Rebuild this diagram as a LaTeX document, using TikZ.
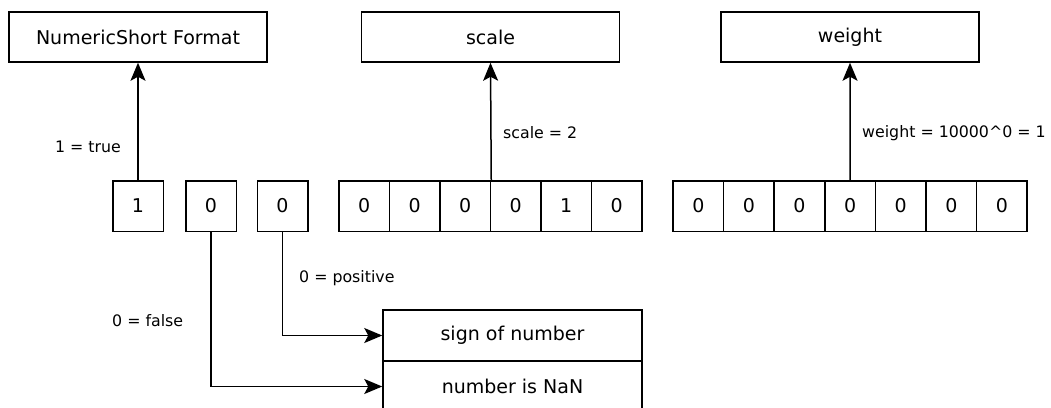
\documentclass[tikz,border=0pt]{standalone}
\usepackage{fontspec}
\setmainfont{DejaVu Sans}
\usetikzlibrary{arrows.meta}

\tikzset{
  box/.style={draw=black, line width=1.5pt, rectangle, inner sep=0pt,
    minimum width=258pt, minimum height=50pt,
    font=\fontsize{19}{22}\selectfont},
  cell/.style={draw=black, line width=1.5pt, rectangle, inner sep=0pt,
    minimum width=50.5pt, minimum height=50.5pt,
    font=\fontsize{19}{22}\selectfont},
  flagbox/.style={draw=black, line width=1.5pt, rectangle, inner sep=0pt,
    minimum width=259pt, minimum height=51pt,
    font=\fontsize{19}{22}\selectfont},
  lbl/.style={inner sep=0pt, font=\fontsize{15.8}{19}\selectfont},
  link/.style={line width=1.5pt, -{Stealth[length=18pt,width=15pt,inset=4pt]}}
}

\begin{document}
\begin{tikzpicture}[x=1pt, y=-1pt]
  \useasboundingbox (0,0) rectangle (1051,407);

  % target boxes
  \node[box] (fmt)    at (138,37) {NumericShort Format};
  \node[box] (scl)    at (490.5,37) {scale};
  \node[box] (wgt)    at (850,37) {weight};

  % flag bits
  \node[cell] (b1) at (138,206) {1};
  \node[cell] (b2) at (211,206) {0};
  \node[cell] (b3) at (282.5,206) {0};

  % scale digits
  \foreach \d [count=\i from 0] in {0,0,0,0,1,0}
    \node[cell] (s\i) at ({339+25.25+50.5*\i},206) {\d};

  % weight digits
  \foreach \d [count=\i from 0] in {0,0,0,0,0,0,0}
    \node[cell] (w\i) at ({673+25.3+50.6*\i},206) {\d};

  % flag meaning boxes
  \node[flagbox] (sign) at (512.5,335.5) {sign of number};
  \node[flagbox] (nan)  at (512.5,386.5) {number is NaN};

  % connectors
  \draw[link] (b1.north) -- (fmt.south);
  \draw[link] (s2.north east) -- (scl.south);
  \draw[link] (w3.north) -- (wgt.south);
  \draw[link] (b3.south) |- (sign.west);
  \draw[link] (b2.south) |- (nan.west);

  % labels
  \node[lbl, anchor=east] (l1) at (121,147) {1 = true};
  \node[lbl, anchor=west] (l2) at (503,133) {scale = 2};
  \node[lbl, anchor=west] (l3) at (862,133) {weight = 10000\textasciicircum0 = 1};
  \node[lbl, anchor=west] (l4) at (299,278) {0 = positive};
  \node[lbl, anchor=west] (l5) at (112,321) {0 = false};
\end{tikzpicture}
\end{document}
